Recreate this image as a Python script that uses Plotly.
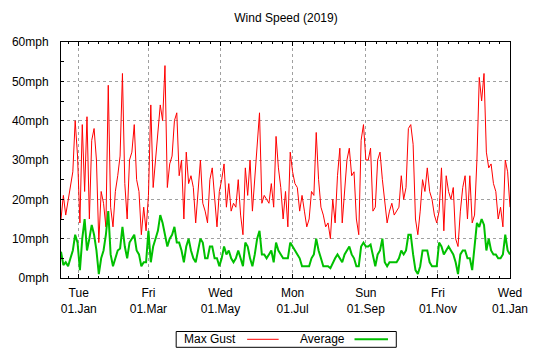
import plotly.graph_objects as go
import pandas as pd

# ---------------- data ----------------
start_date = "2018-12-17"
step_days = 2

max_gust = [
    15, 21, 16, 20, 23, 27, 40, 31, 14, 39, 22, 41, 15, 35, 38, 30, 9, 22, 19, 13,
    49, 18, 13, 22, 26, 31, 52, 24, 15, 30, 32, 39, 25,
    22, 11, 18, 12, 21, 44, 23, 30, 38, 44, 40, 54, 23, 29, 31, 40, 42, 26, 30, 15,
    32, 24, 26, 23, 14, 21, 30, 19, 17, 14, 25, 28, 21,
    13, 22, 25, 29, 18, 24, 17, 19, 18, 25, 16, 11, 28, 21, 30, 17, 25, 35, 42, 19,
    21, 20, 19, 24, 18, 36, 28, 23, 15, 22, 13, 32, 27,
    24, 23, 17, 21, 17, 13, 15, 22, 21, 37, 25, 18, 16, 13, 14, 10, 20, 14, 26, 33,
    14, 22, 30, 33, 26, 27, 15, 11, 35, 39, 30, 30, 33,
    17, 18, 30, 32, 25, 19, 14, 17, 19, 16, 17, 18, 26, 20, 23, 38, 39, 34, 15, 11,
    17, 25, 22, 28, 22, 20, 16, 14, 17, 28, 12, 26, 22,
    20, 23, 10, 8, 17, 23, 26, 15, 26, 14, 16, 30, 51, 45, 52, 32, 28, 29, 24, 22,
    15, 18, 13, 30, 27, 18,
]

average = [
    6.7, 3.3, 4, 3, 5, 7, 11, 9, 2, 10, 15, 7, 10, 13.5, 11, 7, 1, 5, 7, 11,
    17, 6, 3, 5, 7, 7.5, 13, 8, 5, 9, 10, 11, 7,
    6, 3, 4, 4, 12, 4, 8, 10, 12, 16, 14, 11, 8, 10, 11, 13, 9, 9, 7, 4,
    8, 10, 7, 5, 4, 7, 10, 9, 5, 5, 8, 8, 5,
    5, 3, 5, 8, 6, 7, 5, 4, 5, 7, 5, 3, 9, 8, 5, 3, 6, 10, 12, 6,
    6, 5, 6, 7, 4, 9, 7, 6, 5, 5, 5, 9, 8,
    7, 6, 5, 3, 3, 3, 3, 5, 6, 10, 7, 5, 3, 3, 3, 2.5, 4, 5, 6, 5,
    4, 6, 7, 8, 6, 5, 3, 3, 8, 9, 8, 8, 8.5,
    6, 3, 6, 7, 10, 4, 3, 4, 4, 4, 4, 5, 7, 6, 7, 11, 11, 6, 2, 1,
    3, 7, 7, 7, 4, 3, 3, 3, 9, 8, 6, 7, 8,
    7, 6, 4, 1, 6, 7, 7, 5, 5, 2, 8, 14, 13, 15, 13.5, 7, 10, 7, 6, 6,
    5, 5, 6, 11, 7, 6,
]

major_dates = ["2019-01-01", "2019-03-01", "2019-05-01", "2019-07-01",
               "2019-09-01", "2019-11-01", "2020-01-01"]
major_days = ["Tue", "Fri", "Wed", "Mon", "Sun", "Fri", "Wed"]
major_dm = ["01.Jan", "01.Mar", "01.May", "01.Jul", "01.Sep", "01.Nov", "01.Jan"]

y_values = [0, 10, 20, 30, 40, 50, 60]
y_labels = [f"{v}mph" for v in y_values]

x_range = ["2018-12-17", "2020-01-01"]

# ---------------- build ----------------
dates = pd.date_range(start_date, periods=len(max_gust), freq=f"{step_days}D")

# minor ticks: each major interval split into 7 parts
md = [pd.Timestamp("2018-11-01")] + [pd.Timestamp(d) for d in major_dates]
minor_vals = []
for a, b in zip(md[:-1], md[1:]):
    for i in range(1, 7):
        t = a + (b - a) * i / 7
        if t >= pd.Timestamp(x_range[0]):
            minor_vals.append(t)

fig = go.Figure()
fig.add_trace(go.Scatter(x=dates, y=max_gust, mode="lines", name="Max Gust",
                         line=dict(color="#ff0000", width=1), showlegend=False))
fig.add_trace(go.Scatter(x=dates, y=average, mode="lines", name="Average",
                         line=dict(color="#00c000", width=2), showlegend=False))

L, R, T, B = 56, 24, 42, 72
W, H = 540, 350
PW, PH = W - L - R, H - T - B


def px(x):
    return (x - L) / PW


def py(y):
    return (H - B - y) / PH


FONT = "Liberation Sans"

fig.update_layout(
    width=W, height=H,
    margin=dict(l=L, r=R, t=T, b=B, pad=0),
    plot_bgcolor="white", paper_bgcolor="white",
    font=dict(family=FONT, size=12, color="black"),
    title=dict(text="Wind Speed (2019)", x=286 / W, xanchor="center",
               y=1 - 18 / H, yanchor="middle", font=dict(size=12)),
    showlegend=False,
)

fig.update_xaxes(
    range=x_range, tickmode="array", tickvals=major_dates,
    ticktext=[f"{a}<br>{b}" for a, b in zip(major_days, major_dm)],
    ticks="inside", ticklen=4, tickwidth=1, tickcolor="black",
    showline=True, linecolor="black", linewidth=1, mirror="ticks",
    showgrid=True, gridcolor="#a0a0a0", gridwidth=1, griddash="dot",
    zeroline=False, ticklabelstandoff=4,
    minor=dict(tickmode="array", tickvals=minor_vals, ticks="inside",
               ticklen=2, tickcolor="black", showgrid=False),
)
fig.update_yaxes(
    range=[0, 60], tickmode="array", tickvals=y_values, ticktext=y_labels,
    ticks="inside", ticklen=3, tickwidth=1, tickcolor="black",
    showline=True, linecolor="black", linewidth=1, mirror=True,
    showgrid=True, gridcolor="#a0a0a0", gridwidth=1, griddash="dot",
    zeroline=False, ticklabelstandoff=9,
    minor=dict(dtick=5, ticks="inside", ticklen=3, tickcolor="black", showgrid=False),
)

# custom key box (gnuplot style: label then sample line)
ky = py(339.3)
fig.add_shape(type="rect", xref="paper", yref="paper",
              x0=px(174), x1=px(399.5), y0=py(347.3), y1=py(331.5),
              line=dict(color="black", width=1), fillcolor="rgba(0,0,0,0)")
fig.add_shape(type="line", xref="paper", yref="paper",
              x0=px(246.7), x1=px(279), y0=ky, y1=ky,
              line=dict(color="#ff0000", width=1))
fig.add_shape(type="line", xref="paper", yref="paper",
              x0=px(356.7), x1=px(391), y0=ky, y1=ky,
              line=dict(color="#00c000", width=2))
fig.add_annotation(text="Max Gust", xref="paper", yref="paper", x=px(181),
                   y=ky, xanchor="left", yanchor="middle", showarrow=False,
                   font=dict(size=12), borderpad=0)
fig.add_annotation(text="Average", xref="paper", yref="paper", x=px(299.5),
                   y=ky, xanchor="left", yanchor="middle", showarrow=False,
                   font=dict(size=12), borderpad=0)

fig.write_html("out.html")
